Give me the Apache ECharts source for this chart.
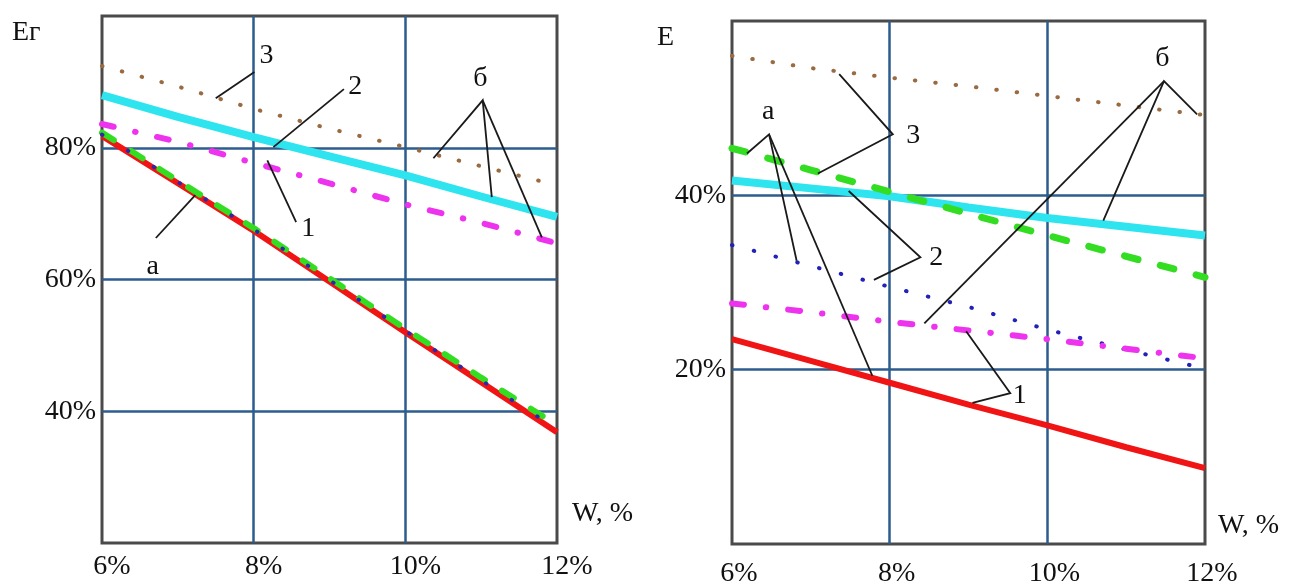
<!DOCTYPE html>
<html>
<head>
<meta charset="utf-8">
<script src="https://cdn.jsdelivr.net/npm/echarts@6/dist/echarts.min.js"></script>
<style>
html, body { margin: 0; padding: 0; background: #fff; }
#main { width: 1295px; height: 588px; }
</style>
</head>
<body>
<div id="main"></div>
<script>
// влажность W, %
var W = [6, 7, 8, 9, 10, 11, 12];
var xTicks = [6, 8, 10, 12];

// левый график: Ег, %
var eg1a = [81.8, 74.6, 67.4, 59.7, 52.0, 44.4, 36.8];
var eg2a = [82.3, 75.0, 67.8, 60.2, 52.5, 45.1, 37.9];
var eg3a = [82.0, 74.8, 67.6, 59.9, 52.2, 44.7, 37.3];
var eg1b = [83.6, 80.9, 77.7, 74.6, 71.4, 68.6, 65.5];
var eg2b = [88.0, 84.7, 81.6, 78.7, 75.8, 72.6, 69.5];
var eg3b = [92.4, 89.3, 85.9, 82.9, 80.1, 77.2, 74.3];
var egTicks = [40, 60, 80];

// правый график: E, %
var e1a = [23.5, 21.0, 18.5, 16.0, 13.6, 11.1, 8.7];
var e2a = [45.4, 42.9, 40.4, 37.9, 35.4, 33.0, 30.6];
var e3a = [34.3, 31.9, 29.5, 27.2, 24.6, 22.3, 20.1];
var e1b = [27.6, 26.6, 25.5, 24.5, 23.5, 22.4, 21.3];
var e2b = [41.7, 40.8, 39.9, 38.6, 37.4, 36.4, 35.4];
var e3b = [56.0, 54.6, 53.5, 52.5, 51.4, 50.3, 49.2];
var eTicks = [20, 40];

// выноски (в координатах графика)
var leftLeaders = [
  [[8.01, 91.5], [7.50, 87.5]],
  [[9.19, 88.9], [8.26, 80.1]],
  [[8.56, 68.7], [8.18, 78.1]],
  [[6.71, 66.3], [7.23, 72.8]],
  [[10.37, 78.4], [11.02, 87.2], [11.14, 72.5]],
  [[11.02, 87.2], [11.80, 66.4]]
];
var leftMarks = [['3', 8.17, 94.0], ['2', 9.34, 89.3], ['1', 8.72, 67.7], ['а', 6.67, 61.9], ['б', 10.99, 90.5]];

var rightLeaders = [
  [[11.90, 49.3], [11.48, 53.1], [10.71, 37.1]],
  [[11.48, 53.1], [8.44, 25.3]],
  [[6.19, 44.8], [6.47, 47.0], [6.82, 32.5]],
  [[6.47, 47.0], [7.78, 19.3]],
  [[7.36, 53.9], [8.04, 47.0], [7.09, 42.5]],
  [[7.48, 40.5], [8.39, 32.9], [7.80, 30.3]],
  [[8.97, 24.4], [9.53, 17.3], [9.05, 16.2]]
];
var rightMarks = [['б', 11.46, 55.7], ['а', 6.46, 49.6], ['3', 8.30, 46.8], ['2', 8.59, 32.9], ['1', 9.65, 17.0]];

var FONT = 'Liberation Serif';
var GRID_COLOR = '#2d5d8e';

function curve(vals, gi, color, width, type, cap) {
  return {
    type: 'line',
    xAxisIndex: gi,
    yAxisIndex: gi,
    symbol: 'none',
    silent: true,
    data: W.map(function (w, i) { return [w, vals[i]]; }),
    lineStyle: { color: color, width: width, type: type, cap: cap || 'butt' }
  };
}

function leaders(list, gi) {
  return {
    type: 'lines',
    coordinateSystem: 'cartesian2d',
    xAxisIndex: gi,
    yAxisIndex: gi,
    polyline: true,
    silent: true,
    z: 5,
    lineStyle: { color: '#1a1a1a', width: 1.8, opacity: 1 },
    data: list.map(function (c) { return { coords: c }; })
  };
}

function marks(list, gi) {
  return {
    type: 'scatter',
    xAxisIndex: gi,
    yAxisIndex: gi,
    symbolSize: 0.1,
    silent: true,
    z: 6,
    itemStyle: { color: '#111', opacity: 1 },
    label: {
      show: true,
      position: 'inside',
      formatter: '{b}',
      fontFamily: FONT,
      fontSize: 28,
      color: '#111',
      opacity: 1,
      textBorderWidth: 0
    },
    data: list.map(function (m) { return { name: m[0], value: [m[1], m[2]] }; })
  };
}

function xAxis(gi, margin, shift) {
  return {
    type: 'value',
    gridIndex: gi,
    min: 6, max: 12, interval: 2,
    axisLine: { show: false },
    axisTick: { show: false },
    splitLine: { show: true, showMinLine: false, showMaxLine: false, lineStyle: { color: GRID_COLOR, width: 2.5 } },
    axisLabel: {
      margin: margin,
      fontFamily: FONT, fontSize: 28, color: '#111',
      padding: [0, 0, 0, shift],
      formatter: function (v) { return xTicks.indexOf(v) >= 0 ? v + '%' : ''; }
    }
  };
}

function yAxis(gi, min, max, ticks) {
  return {
    type: 'value',
    gridIndex: gi,
    min: min, max: max, interval: 20,
    axisLine: { show: false },
    axisTick: { show: false },
    splitLine: { show: true, showMinLine: false, showMaxLine: false, lineStyle: { color: GRID_COLOR, width: 2.5 } },
    axisLabel: {
      margin: 6,
      fontFamily: FONT, fontSize: 28, color: '#111',
      padding: [6, 0, 0, 0],
      formatter: function (v) { return ticks.indexOf(v) >= 0 ? v + '%' : ''; }
    }
  };
}

var chart = echarts.init(document.getElementById('main'));

var option = {
  animation: false,
  backgroundColor: '#fff',
  grid: [
    { left: 102, top: 16, width: 455, height: 527, show: true, borderColor: '#4a4a4a', borderWidth: 3, backgroundColor: 'transparent' },
    { left: 732, top: 21, width: 473, height: 530, show: true, borderColor: '#4a4a4a', borderWidth: 3, backgroundColor: 'transparent' }
  ],
  xAxis: [xAxis(0, 10, 20), xAxis(1, 16, 14)],
  yAxis: [yAxis(0, 20, 100, egTicks), yAxis(1, 0, 60, eTicks)],
  graphic: [
    { type: 'text', left: 12, top: 19, style: { text: 'Ег', font: '28px "Liberation Serif"', fill: '#111' } },
    { type: 'text', left: 657, top: 24, style: { text: 'E', font: '28px "Liberation Serif"', fill: '#111' } },
    { type: 'text', left: 572, top: 500, style: { text: 'W, %', font: '28px "Liberation Serif"', fill: '#111' } },
    { type: 'text', left: 1218, top: 512, style: { text: 'W, %', font: '28px "Liberation Serif"', fill: '#111' } }
  ],
  series: [
    // левый
    curve(eg3b, 0, '#9a6a40', 4, [0.5, 20], 'round'),
    curve(eg2b, 0, '#2ee4ef', 8, 'solid'),
    curve(eg1b, 0, '#ee33ee', 6, [12, 22, 0.5, 22], 'round'),
    curve(eg1a, 0, '#f01414', 6, 'solid'),
    curve(eg2a, 0, '#33dd22', 6, [14, 20], 'round'),
    curve(eg3a, 0, '#2a2aa8', 4, [0.5, 30], 'round'),
    leaders(leftLeaders, 0),
    marks(leftMarks, 0),
    // правый
    curve(e3b, 1, '#9a6a40', 4, [0.5, 20], 'round'),
    curve(e2b, 1, '#2ee4ef', 8, 'solid'),
    curve(e2a, 1, '#33dd22', 7, [14, 23], 'round'),
    curve(e3a, 1, '#2222bb', 4, [0.5, 22], 'round'),
    curve(e1b, 1, '#ee33ee', 6, [12, 22, 0.5, 22], 'round'),
    curve(e1a, 1, '#f01414', 6, 'solid'),
    leaders(rightLeaders, 1),
    marks(rightMarks, 1)
  ]
};

chart.setOption(option);
</script>
</body>
</html>
